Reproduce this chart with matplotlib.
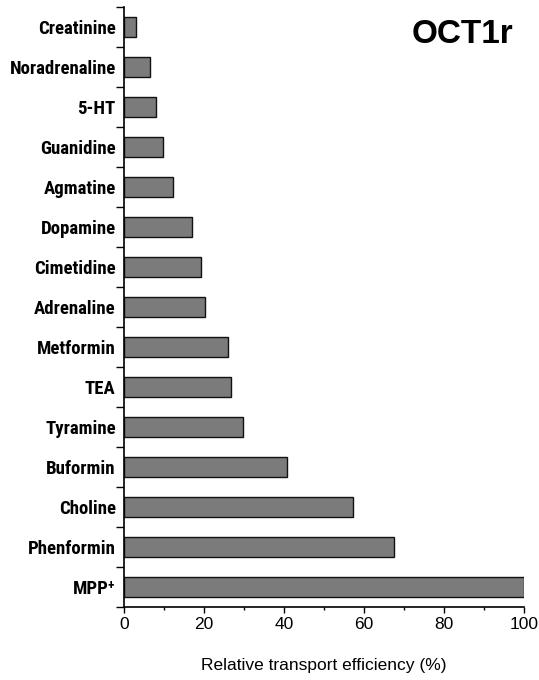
import matplotlib
matplotlib.use("Agg")
import matplotlib.pyplot as plt
import numpy as np
from matplotlib.ticker import MultipleLocator, FixedLocator

compounds = ["Creatinine", "Noradrenaline", "5-HT", "Guanidine", "Agmatine",
             "Dopamine", "Cimetidine", "Adrenaline", "Metformin", "TEA",
             "Tyramine", "Buformin", "Choline", "Phenformin", "MPP\u207a"]
efficiency = [3.0, 6.5, 8.0, 9.8, 12.2, 17.0, 19.2, 20.2, 26.0, 26.8,
              29.7, 40.8, 57.3, 67.4, 100.0]
xticks = [0, 20, 40, 60, 80, 100]

narrow = ["Roboto Condensed", "Fira Sans Condensed", "Archivo Narrow", "PT Sans Narrow",
          "IBM Plex Sans Condensed", "Sofia Sans Condensed", "Liberation Sans", "DejaVu Sans"]
plt.rcParams["font.family"] = ["Liberation Sans", "DejaVu Sans"]

fig = plt.figure(figsize=(5.39, 6.80), dpi=100)
ax = fig.add_axes([0.230, 0.1074, 0.742, 0.8823])

y = np.arange(len(compounds))
ax.barh(y, efficiency, height=0.52, color="#7b7b7b", edgecolor="#111111", linewidth=1.0)

ax.set_xlim(0, 100)
ax.set_ylim(len(compounds) - 0.5, -0.5)

# compound names sit on the bars, ticks mark the boundaries between rows
ax.set_yticks(y)
ax.set_yticklabels(compounds, family=narrow, fontweight="bold", fontsize=13.5)
ax.yaxis.set_minor_locator(FixedLocator(np.arange(-0.5, len(compounds), 1.0)))
ax.tick_params(axis="y", which="major", length=0, pad=6)
ax.tick_params(axis="y", which="minor", length=5.5, width=1.0)

ax.set_xticks(xticks)
ax.xaxis.set_minor_locator(MultipleLocator(10))
ax.tick_params(axis="x", which="major", length=4, width=1.0, labelsize=12.5, pad=3)
ax.tick_params(axis="x", which="minor", length=2.5, width=1.0)
ax.set_xlabel("Relative transport efficiency (%)", fontsize=12.5, labelpad=19)

for side in ["top", "right"]:
    ax.spines[side].set_visible(False)
for side in ["left", "bottom"]:
    ax.spines[side].set_linewidth(1.2)

ax.text(0.973, 0.955, "OCT1r", transform=ax.transAxes, ha="right", va="center",
        fontsize=24, fontweight="bold")

fig.savefig("out.png", dpi=100)
